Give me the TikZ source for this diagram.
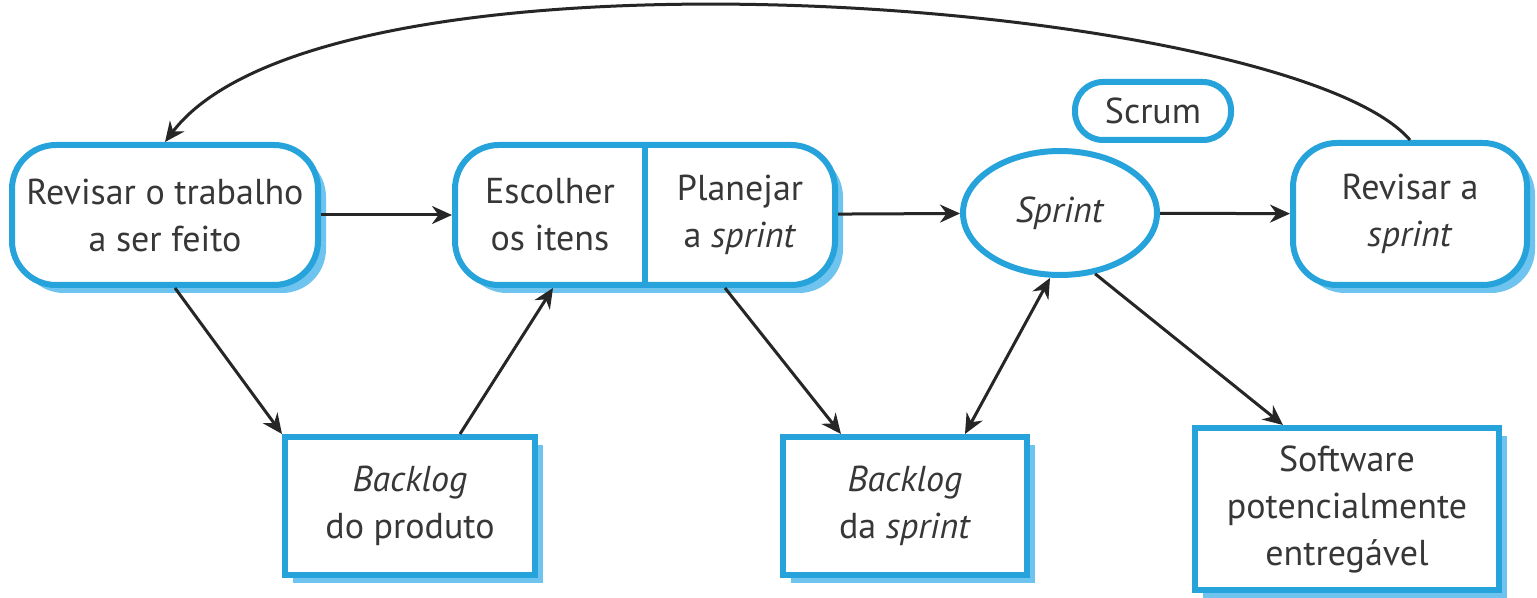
\documentclass[tikz,border=0pt]{standalone}
\usepackage{fontspec}
\setmainfont{PT Sans}
\usetikzlibrary{shapes.geometric,shadows,arrows.meta}
\definecolor{scrumblue}{RGB}{39,163,220}
\definecolor{shadowblue}{RGB}{110,196,238}
\definecolor{textgray}{RGB}{55,55,55}

\begin{document}
\begin{tikzpicture}[x=0.5pt, y=-0.5pt,
  every node/.style={text=textgray, font=\fontsize{18}{23.5}\selectfont, align=center},
  shadowed/.style={drop shadow={shadow xshift=4pt, shadow yshift=-4pt, fill=shadowblue, opacity=1}},
  roundbox/.style={draw=scrumblue, line width=3pt, rounded corners=22pt, fill=white, shadowed},
  squarebox/.style={draw=scrumblue, line width=3pt, fill=white, shadowed},
  link/.style={draw=black!85, line width=1.5pt, -{Stealth[length=10pt,width=9pt]}},
]
\def\boxheight{70pt}
\useasboundingbox[fill=white] (0,0) rectangle (1537,598);

% TOP ROW
\node [roundbox, minimum width=153pt, minimum height=\boxheight] (work) at (165,215) {Revisar o trabalho\\a ser feito};
\node [roundbox, minimum width=190pt, minimum height=\boxheight] (choose) at (645,215) {};
\draw [draw=scrumblue, line width=3pt] (choose.north) -- (choose.south);
\node (items) at (550,215) {Escolher\\os itens};
\node (plan) at (740,215) {Planejar\\a \textit{sprint}};
\node [ellipse, draw=scrumblue, line width=3pt, fill=white, minimum width=97pt, minimum height=62pt, inner sep=0pt] (sprint) at (1060,213) {\textit{Sprint}};
\node [draw=scrumblue, line width=3pt, rounded corners=14pt, minimum width=78pt, minimum height=29pt] (scrum) at (1153,111) {Scrum};
\node [roundbox, minimum width=117pt, minimum height=71pt] (review) at (1410,214) {Revisar a\\\textit{sprint}};

% BOTTOM ROW
\node [squarebox, minimum width=125pt, minimum height=69pt] (prodlog) at (410,506) {\textit{Backlog}\\do produto};
\node [squarebox, minimum width=122pt, minimum height=69pt] (sprintlog) at (905,506) {\textit{Backlog}\\da \textit{sprint}};
\node [squarebox, minimum width=152pt, minimum height=81pt] (software) at (1347,509) {Software\\potencialmente\\entregável};

% CONNECTORS
\draw [link] (work) -- (choose);
\draw [link] (choose) -- (sprint);
\draw [link] (sprint) -- (review);
\draw [link] ([xshift=5pt]work.south) -- (prodlog.north west);
\draw [link] ([xshift=25pt]prodlog.north) -- ([xshift=-46pt]choose.south);
\draw [link] ([xshift=40pt]choose.south) -- ([xshift=-32pt]sprintlog.north);
\draw [link, {Stealth[length=10pt,width=9pt]}-{Stealth[length=10pt,width=9pt]}] ([xshift=-5pt]sprint.south) -- ([xshift=30pt]sprintlog.north);
\draw [link] (sprint.-60) -- ([xshift=-32pt]software.north);
\draw [link] (review.north) .. controls (1290,0) and (330,-75) .. (work.north);
\end{tikzpicture}
\end{document}
